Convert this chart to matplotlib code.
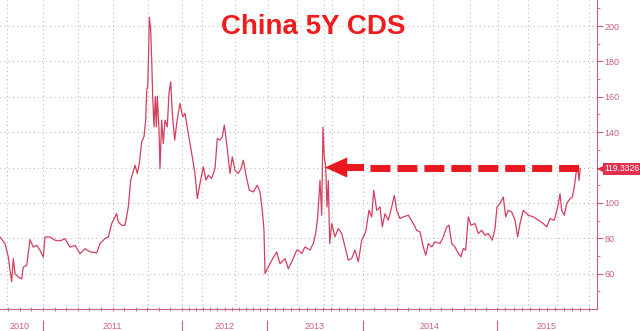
import matplotlib
matplotlib.use("Agg")
import matplotlib.pyplot as plt
from matplotlib.transforms import blended_transform_factory

plt.rcParams['font.family'] = ['Liberation Sans', 'DejaVu Sans']

# series position on the chart's time axis and the CDS level (bp)
pos = [0.0, 5.0, 8.3, 10.0, 11.7, 13.3, 15.0, 18.3, 21.7, 23.3, 26.7, 30.0, 33.3, 36.7,
       40.0, 43.3, 45.0, 50.0, 55.0, 60.0, 65.0, 70.0, 75.0, 80.0, 85.0, 90.0, 96.7,
       100.0, 105.0, 108.3, 111.7, 116.7, 118.3, 121.7, 125.0, 128.3, 130.7, 135.0,
       137.3, 139.3, 141.7, 144.0, 145.7, 146.7, 147.7, 148.7, 149.3, 150.7, 151.7,
       152.7, 154.0, 155.3, 156.3, 157.3, 159.0, 160.0, 161.7, 163.3, 165.0, 167.3,
       169.0, 170.7, 172.3, 174.7, 176.7, 180.0, 182.7, 185.0, 188.3, 191.7, 195.0,
       197.3, 200.0, 203.3, 206.0, 208.3, 211.7, 215.0, 217.3, 220.0, 222.3, 224.3,
       226.7, 230.0, 232.3, 235.0, 238.3, 241.0, 243.3, 246.0, 249.3, 253.3, 257.3,
       260.0, 262.3, 264.0, 265.0, 268.3, 271.7, 276.7, 280.0, 285.0, 288.3, 291.7,
       296.7, 298.3, 301.7, 305.0, 310.0, 313.3, 315.7, 317.7, 320.0, 321.7, 323.0,
       324.3, 325.7, 327.0, 328.3, 329.7, 331.7, 335.0, 338.3, 341.7, 345.0, 348.3,
       351.7, 355.0, 358.3, 361.7, 365.7, 369.0, 371.7, 373.7, 376.7, 380.0, 382.3,
       385.0, 388.3, 391.7, 394.3, 396.7, 400.0, 403.3, 408.3, 413.3, 416.7, 420.0,
       423.3, 425.7, 428.3, 431.7, 435.0, 440.0, 443.3, 446.7, 449.0, 451.7, 455.0,
       458.3, 461.0, 463.3, 465.7, 468.3, 471.0, 475.0, 478.3, 481.7, 485.0, 488.3,
       492.3, 495.0, 497.0, 500.0, 503.3, 505.7, 508.3, 511.7, 515.0, 517.7, 520.0,
       523.3, 528.3, 533.3, 538.3, 543.3, 546.7, 550.0, 554.3, 557.7, 560.0, 561.7,
       564.3, 566.7, 570.0, 572.3, 574.3, 576.0, 577.7, 579.0, 580.3]
cds = [80.7, 77, 69.4, 62, 55.5, 68.5, 60, 58, 57, 63.7, 64.6, 79.2, 75, 76,
       73.2, 69.4, 80.7, 80.7, 78.9, 78.5, 79.8, 75, 76, 71.3, 74.1, 72.3, 71.7,
       77, 79.8, 80.7, 88.3, 94, 89.2, 87.3, 87.3, 97.7, 112.8, 121.3,
       116.6, 122.3, 134.5, 137.4, 146.8, 163.8, 165.7, 186.4, 204.9, 197.7, 180.8,
       160, 143, 160, 143, 160.4, 141, 119.4, 146.8, 133.6, 146.8, 143,
       162, 168.5, 150.6, 135.5, 145, 156.2, 148.7, 150.6, 139.2, 128, 116.6,
       102.4, 111, 120.4, 112.8, 115.6, 113.8, 119.4, 136.4, 135.5, 137.4, 144,
       133.6, 116.6, 126, 118.5, 116.6, 119.4, 124.1, 115.6, 107.2, 106.2, 110,
       106.2, 95.8, 84.5, 60, 63.8, 67.5, 72.3, 65.6, 68.5, 62.8, 66.6,
       73.2, 73.3, 71.4, 75.1, 73.3, 77, 82.7, 92, 112.7, 93, 142.8,
       126, 120.3, 97.7, 112.7, 77, 88.3, 80.8, 85.5, 82.7, 75.1, 67.6,
       68.6, 73.3, 66.7, 78.9, 83.6, 95.8, 92.1, 107.1, 95.8, 97.7, 86.4,
       93.9, 90.2, 97.7, 104.3, 95.8, 91.1, 92.1, 93, 88.3, 84.5, 83.6,
       75.1, 70.4, 77, 75.1, 78, 77, 80.8, 86.4, 87.4, 77, 75.1,
       71.4, 69.5, 74.2, 73.3, 92.1, 87.4, 88.3, 82.7, 84.5, 81.7, 82.7,
       78.9, 85.5, 97.7, 99.6, 103.3, 92.1, 95.8, 94.9, 90.2, 80.8, 88.3,
       95.8, 93, 92.1, 90.2, 88.3, 86.4, 91.1, 90.2, 97.7, 105.2, 95.8,
       93, 99.6, 102.4, 103.3, 109, 116.5, 121.2, 112.7, 119.3326]
last_value = 119.3326

years = ['2010', '2011', '2012', '2013', '2014', '2015']
year_edges = [-4, 43, 182, 267, 363, 497, 597]
grid_x = [7, 43, 78, 113, 148, 182, 202, 235, 268, 297, 324, 332, 363, 398,
          433, 470, 498, 528, 557, 589]
y_ticks = [60, 80, 100, 120, 140, 160, 180, 200]

LINE = '#d2405e'
AXIS = '#c8607c'
RED = '#ea1620'
GRID = '#b8b8b8'
BADGE = '#e0304e'

fig = plt.figure(figsize=(6.4, 3.31), dpi=100)
ax = fig.add_axes([0, 22 / 331, 597 / 640, 309 / 331])
ax.set_xlim(0, 597)
ax.set_ylim(40, 214.7)

# dotted grid
for y in y_ticks:
    ax.axhline(y, color=GRID, lw=0.75, ls=(0, (1, 3)), zorder=0)
for x in grid_x:
    ax.axvline(x, color=GRID, lw=0.75, ls=(0, (1, 3)), zorder=0)

ax.plot(pos, cds, color=LINE, lw=0.9, zorder=2)

# big dashed arrow pointing back at the 2013 spike
ax.plot([370, 581], [120, 120], color=RED, lw=5, ls=(0, (2.88, 1.0)),
        dash_capstyle='butt', zorder=3)
ax.annotate('', xy=(325, 120), xytext=(364, 120),
            arrowprops=dict(width=5, headwidth=14.5, headlength=16,
                            color=RED, lw=0, shrink=0), zorder=3)

# spines
for s in ['top', 'left']:
    ax.spines[s].set_visible(False)
for s in ['right', 'bottom']:
    ax.spines[s].set_color(AXIS)
    ax.spines[s].set_linewidth(0.8)

# right axis
ax.yaxis.tick_right()
ax.set_yticks(y_ticks)
ax.set_yticklabels([str(v) if v != 120 else '' for v in y_ticks])
ax.set_yticks([50, 70, 90, 110, 130, 150, 170, 190, 210], minor=True)
ax.tick_params(axis='y', which='major', direction='out', length=4, width=0.8,
               color=AXIS, labelcolor=AXIS, labelsize=6.5, pad=1.5)
ax.tick_params(axis='y', which='minor', direction='out', length=2, width=0.6,
               color=AXIS)

# bottom axis: monthly ticks, year labels between separators
months = []
for i in range(1, len(year_edges) - 1):
    a, b = year_edges[i], year_edges[i + 1]
    months += [a + k * (b - a) / 12 for k in range(12)]
w = year_edges[2] - year_edges[1]
months = [year_edges[1] - k * w / 12 for k in range(1, 4)] + months
ax.set_xticks([])
ax.set_xticks(months, minor=True)
ax.tick_params(axis='x', which='minor', direction='inout', length=3.5,
               width=0.6, color=AXIS)

trans = blended_transform_factory(ax.transData, ax.transAxes)
ax.vlines(year_edges[1:-1], -0.072, -0.036, transform=trans, color=AXIS,
          lw=0.8, clip_on=False)
for i, yr in enumerate(years):
    c = (year_edges[i] + year_edges[i + 1]) / 2
    ax.text(c, -0.056, yr, transform=trans, ha='center', va='center',
            color=AXIS, fontsize=6.5)

# last value badge
trans2 = blended_transform_factory(ax.transAxes, ax.transData)
ax.plot([1.006], [last_value], marker='<', ms=6, color=BADGE, mew=0,
        transform=trans2, clip_on=False, zorder=4)
ax.text(1.013, last_value, '%.4f' % last_value, transform=trans2, color='white',
        fontsize=6.2, ha='left', va='center', clip_on=False, zorder=5,
        bbox=dict(boxstyle='square,pad=0.18', fc=BADGE, ec='none'))

fig.text(0.489, 1 - 27.5 / 331, 'China 5Y CDS', ha='center', va='center',
         color='#ee1c1c', fontsize=20, fontweight='bold')

fig.savefig('out.png', dpi=100)
